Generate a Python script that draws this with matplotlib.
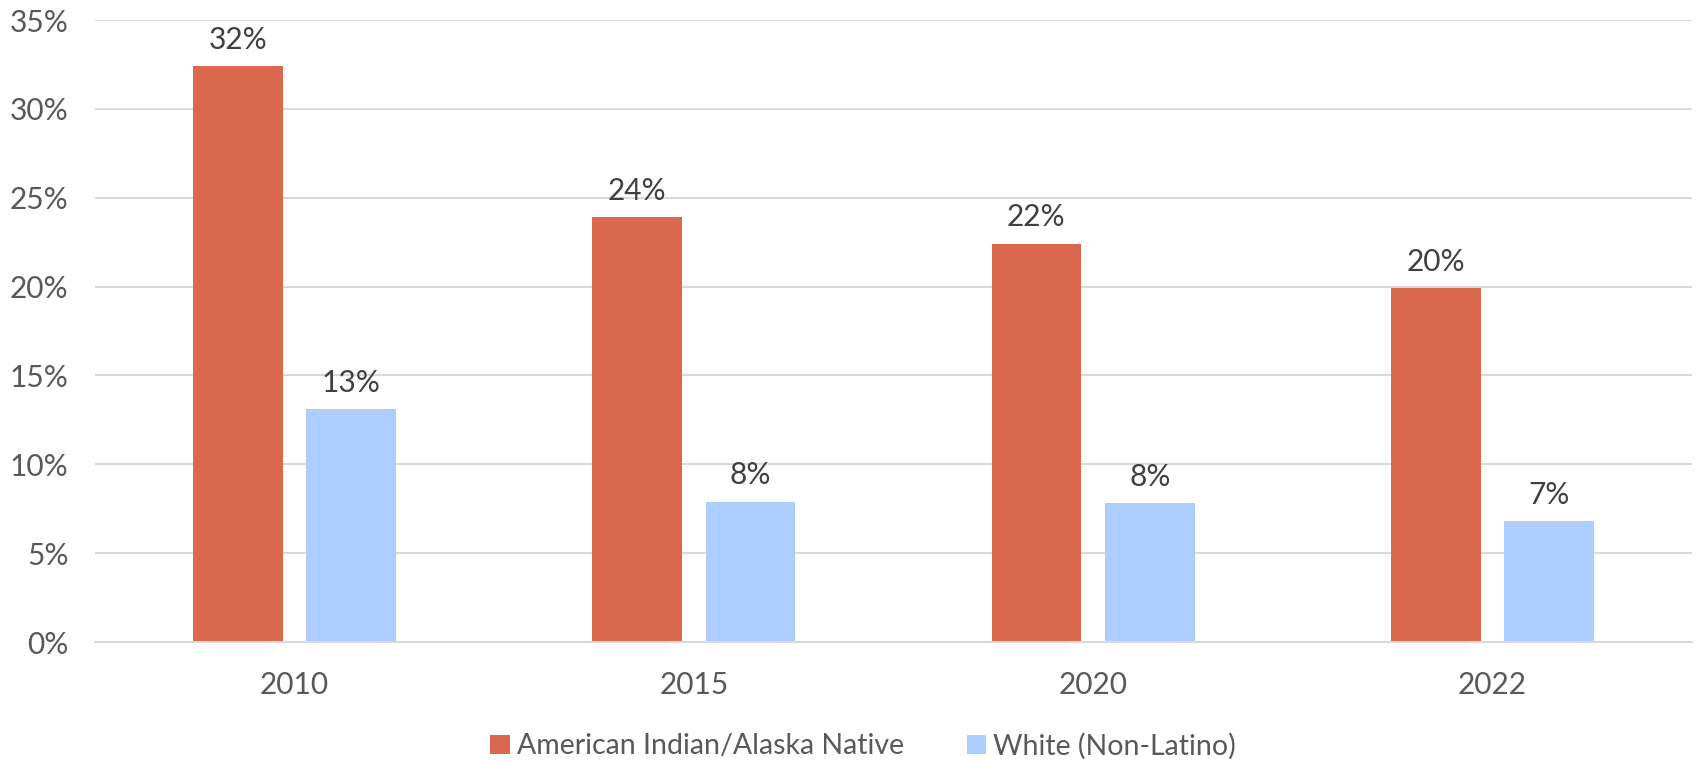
import matplotlib.pyplot as plt
import numpy as np

plt.rcParams['font.family'] = ['Lato', 'DejaVu Sans']

years = ['2010', '2015', '2020', '2022']
aian = [32.4, 23.9, 22.4, 19.9]
white = [13.1, 7.9, 7.8, 6.8]
series_names = ['American Indian/Alaska Native', 'White (Non-Latino)']
colors = ['#D9684F', '#ADCDFE']

fig = plt.figure(figsize=(16.96, 7.61), dpi=100)
ax = fig.add_axes([95 / 1696, 1 - 642 / 761, (1692 - 95) / 1696, (642 - 20) / 761])

x = np.arange(len(years))
w = 0.225
off = 0.142
for vals, name, c, sgn in [(aian, series_names[0], colors[0], -1), (white, series_names[1], colors[1], 1)]:
    bars = ax.bar(x + sgn * off, vals, w, color=c, label=name, zorder=2)
    for b, v in zip(bars, vals):
        ax.annotate(f'{v:.0f}%', (b.get_x() + b.get_width() / 2, v), xytext=(0, 9),
                    textcoords='offset points', ha='center', va='bottom',
                    fontsize=21.5, color='#404040')

ax.set_xlim(-0.5, len(years) - 0.5)
ax.set_ylim(0, 35)
ax.set_yticks(range(0, 36, 5))
ax.set_yticklabels([f'{t}%' for t in range(0, 36, 5)])
ax.set_xticks(x)
ax.set_xticklabels(years)
ax.tick_params(axis='both', length=0, labelsize=21.5, labelcolor='#595959')
ax.tick_params(axis='y', pad=19)
ax.tick_params(axis='x', pad=21)
ax.grid(axis='y', color='#D9D9D9', linewidth=1.5, zorder=0)
for s in ['top', 'right', 'left']:
    ax.spines[s].set_visible(False)
ax.spines['bottom'].set_color('#D9D9D9')
ax.spines['bottom'].set_linewidth(1.5)

leg = fig.legend(loc='center', bbox_to_anchor=(863 / 1696, 1 - 746 / 761), ncol=2,
                 frameon=False, fontsize=20.5, handlelength=0.68, handleheight=0.68,
                 handletextpad=0.25, columnspacing=2.2)
for t in leg.get_texts():
    t.set_color('#595959')

fig.savefig('out.png', dpi=100)
